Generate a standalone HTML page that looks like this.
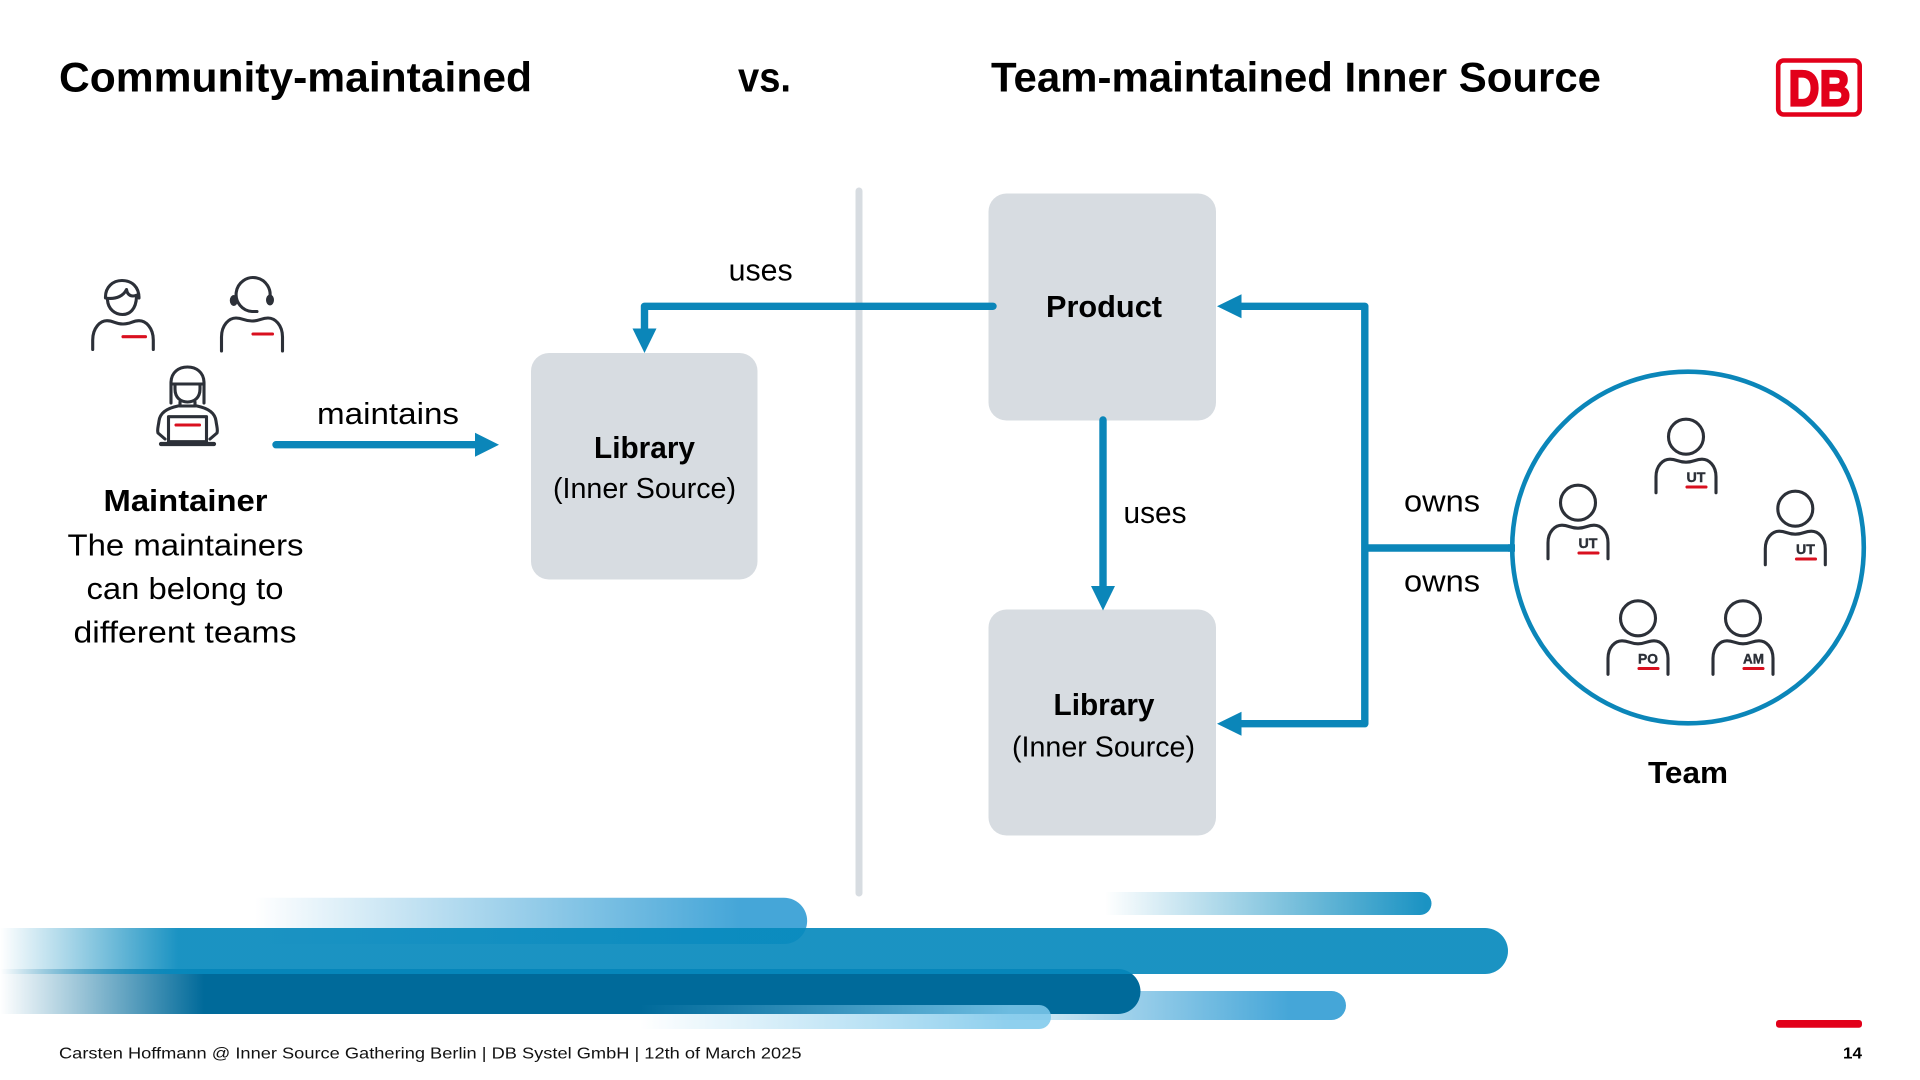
<!DOCTYPE html>
<html lang="en">
<head>
<meta charset="utf-8">
<title>Community-maintained vs. Team-maintained Inner Source</title>
<style>
html,body{margin:0;padding:0;background:#fff;width:1920px;height:1080px;overflow:hidden}
svg{display:block}
text{font-family:"Liberation Sans",sans-serif;fill:#000}
.b{font-weight:700}
.ic{fill:none;stroke:#2c3038;stroke-width:3.1;stroke-linecap:round;stroke-linejoin:round}
.red{fill:none;stroke:#d9101f;stroke-width:3.1;stroke-linecap:round}
.con{fill:none;stroke:#0b86b9;stroke-width:7.4;stroke-linecap:round;stroke-linejoin:round}
.ah{fill:#0b86b9}
.box{fill:#d7dce1}
.role{font-size:14px;font-weight:700;fill:#2c3038;stroke:#2c3038;stroke-width:.4}
</style>
</head>
<body>
<svg width="1920" height="1080" viewBox="0 0 1920 1080" xmlns="http://www.w3.org/2000/svg">
<defs>
<linearGradient id="g1" gradientUnits="userSpaceOnUse" x1="255" y1="0" x2="740" y2="0">
  <stop offset="0" stop-color="#45a6d8" stop-opacity="0"/><stop offset="1" stop-color="#45a6d8"/>
</linearGradient>
<linearGradient id="g2" gradientUnits="userSpaceOnUse" x1="0" y1="0" x2="178" y2="0">
  <stop offset="0" stop-color="#0689bd" stop-opacity="0"/><stop offset="1" stop-color="#0689bd" stop-opacity=".915"/>
</linearGradient>
<linearGradient id="g3" gradientUnits="userSpaceOnUse" x1="0" y1="0" x2="204" y2="0">
  <stop offset="0" stop-color="#006a9a" stop-opacity="0"/><stop offset="1" stop-color="#006a9a"/>
</linearGradient>
<linearGradient id="g4" gradientUnits="userSpaceOnUse" x1="1105" y1="0" x2="1425" y2="0">
  <stop offset="0" stop-color="#1b93c3" stop-opacity="0"/><stop offset="1" stop-color="#1b93c3"/>
</linearGradient>
<linearGradient id="g5" gradientUnits="userSpaceOnUse" x1="950" y1="0" x2="1290" y2="0">
  <stop offset="0" stop-color="#45a6d8" stop-opacity="0"/><stop offset="1" stop-color="#45a6d8"/>
</linearGradient>
<linearGradient id="g6" gradientUnits="userSpaceOnUse" x1="640" y1="0" x2="1010" y2="0">
  <stop offset="0" stop-color="#7dc8eb" stop-opacity="0"/><stop offset="1" stop-color="#7dc8eb" stop-opacity=".863"/>
</linearGradient>
<g id="person">
  <circle cx="0" cy="0" r="17.5" class="ic"/>
  <path class="ic" d="M-30,56 V40 C-30,29 -23,22.5 -16,22.5 C-9,22.5 -8,25.5 0,25.5 C8,25.5 9,22.5 16,22.5 C23,22.5 30,29 30,40 V56"/>
</g>
</defs>

<!-- Titles -->
<text class="b" x="59" y="91.7" font-size="42" textLength="473" lengthAdjust="spacingAndGlyphs">Community-maintained</text>
<text class="b" x="738" y="91.7" font-size="42" textLength="53" lengthAdjust="spacingAndGlyphs">vs.</text>
<text class="b" x="991" y="91.7" font-size="42" textLength="610" lengthAdjust="spacingAndGlyphs">Team-maintained Inner Source</text>

<!-- DB logo -->
<rect x="1778.2" y="60.5" width="81.5" height="54" rx="5.5" fill="#fff" stroke="#e2001a" stroke-width="4.6"/>
<text x="1788.5" y="105.7" font-size="50" class="b" style="fill:#e2001a;stroke:#e2001a;stroke-width:2.2" textLength="62" lengthAdjust="spacingAndGlyphs">DB</text>

<!-- Divider -->
<line x1="859" y1="191" x2="859" y2="893" stroke="#d7dce1" stroke-width="7" stroke-linecap="round"/>

<!-- Boxes -->
<rect class="box" x="531" y="353" width="226.5" height="226.5" rx="18"/>
<rect class="box" x="988.5" y="193.5" width="227.5" height="227" rx="18"/>
<rect class="box" x="988.5" y="609.5" width="227.5" height="226" rx="18"/>

<!-- Box labels -->
<text class="b" x="594" y="458" font-size="31" textLength="101" lengthAdjust="spacingAndGlyphs">Library</text>
<text x="553" y="498" font-size="29" textLength="183" lengthAdjust="spacingAndGlyphs">(Inner Source)</text>
<text class="b" x="1046" y="317" font-size="31" textLength="116" lengthAdjust="spacingAndGlyphs">Product</text>
<text class="b" x="1053.5" y="715" font-size="31" textLength="101" lengthAdjust="spacingAndGlyphs">Library</text>
<text x="1012" y="756.7" font-size="29" textLength="183" lengthAdjust="spacingAndGlyphs">(Inner Source)</text>

<!-- Connectors -->
<path class="con" d="M276,444.7 H476"/>
<polygon class="ah" points="475,432.7 499,444.7 475,456.7"/>
<path class="con" d="M993,306.3 H644.5 V330"/>
<polygon class="ah" points="632.5,328.5 656.5,328.5 644.5,353"/>
<path class="con" d="M1103,420 V588"/>
<polygon class="ah" points="1091,586 1115,586 1103,610.5"/>
<path class="con" d="M1240,306.3 H1364.8 V723.7 H1240"/>
<polygon class="ah" points="1241.5,294.3 1241.5,318.3 1217,306.3"/>
<polygon class="ah" points="1241.5,711.7 1241.5,735.7 1217,723.7"/>
<path class="con" d="M1368,548 H1514" stroke-linecap="butt"/>

<!-- Connector labels -->
<text x="317" y="424" font-size="31" textLength="142" lengthAdjust="spacingAndGlyphs">maintains</text>
<text x="728.6" y="280.7" font-size="31" textLength="64" lengthAdjust="spacingAndGlyphs">uses</text>
<text x="1123.5" y="523" font-size="31" textLength="63" lengthAdjust="spacingAndGlyphs">uses</text>
<text x="1404" y="511.7" font-size="31" textLength="76" lengthAdjust="spacingAndGlyphs">owns</text>
<text x="1404" y="591.7" font-size="31" textLength="76" lengthAdjust="spacingAndGlyphs">owns</text>

<!-- Maintainer text -->
<text class="b" x="103.5" y="511" font-size="31" textLength="164" lengthAdjust="spacingAndGlyphs">Maintainer</text>
<text x="67.5" y="555.5" font-size="31" textLength="236" lengthAdjust="spacingAndGlyphs">The maintainers</text>
<text x="86.5" y="599" font-size="31" textLength="197" lengthAdjust="spacingAndGlyphs">can belong to</text>
<text x="73.5" y="642.5" font-size="31" textLength="223" lengthAdjust="spacingAndGlyphs">different teams</text>

<!-- Maintainer icon 1 -->
<g>
  <path class="ic" d="M105.5,298 C105,287 113,280.5 122,280.5 C132,280.5 139,287 139,298 C139,292 138,296 133,296 C129,296 127,293 126.5,289.5 C124,295 117,300 105.5,298 Z"/>
  <path class="ic" d="M107.5,300 C108,309 115,314.5 122.5,314.5 C130,314.5 136,309 136.5,297"/>
  <path class="ic" d="M92.7,349.5 V340 C92.7,328 100,320.7 107,320.7 C114,320.7 115,324 123,324 C131,324 132,320.7 139,320.7 C146,320.7 153.3,328 153.3,340 V349.5"/>
  <line class="red" x1="123" y1="336.7" x2="145.5" y2="336.7"/>
</g>
<!-- Maintainer icon 2 -->
<g>
  <path class="ic" d="M269.5,299 A17,17 0 1 0 252,311.5 H257"/>
  <ellipse cx="233.8" cy="300.5" rx="4" ry="5.5" fill="#2c3038"/>
  <ellipse cx="270" cy="300" rx="4" ry="5.5" fill="#2c3038"/>
  <path class="ic" d="M221.5,351 V337 C221.5,325 229,318 236,318 C243,318 244,321 252,321 C260,321 261,318 268,318 C275,318 282.5,325 282.5,337 V351"/>
  <line class="red" x1="253" y1="334" x2="272.5" y2="334"/>
</g>
<!-- Maintainer icon 3 -->
<g>
  <path class="ic" d="M171,403 V383 C171,372 179,367 187.5,367 C196,367 204,372 204,383 V403"/>
  <path class="ic" d="M171.5,384 H204"/>
  <path class="ic" d="M175,384 V389 C175,398 181,402 187.5,402 C194,402 200,398 200,389 V384"/>
  <path class="ic" d="M180,402 V406 H195 V402"/>
  <path class="ic" d="M178,406 C168,408 160,412 159,421 C158,428 157,430 158,433 L165,439"/>
  <path class="ic" d="M197,406 C207,408 215,412 216,421 C217,428 218,430 217,433 L210,439"/>
  <rect class="ic" x="168.5" y="416.7" width="38" height="25" fill="#fff"/>
  <line x1="161" y1="444" x2="214" y2="444" stroke="#2c3038" stroke-width="4.2" stroke-linecap="round"/>
  <line class="red" x1="176" y1="425" x2="199.5" y2="425"/>
</g>

<!-- Team circle -->
<circle cx="1688" cy="547.5" r="175.8" fill="#fff" stroke="#0b86b9" stroke-width="4.6"/>
<path d="M1508,548 H1515" stroke="#0b86b9" stroke-width="7.4"/>

<!-- Team members -->
<use href="#person" x="1686" y="436.7"/>
<text class="role" x="1696" y="482" text-anchor="middle" textLength="19" lengthAdjust="spacingAndGlyphs">UT</text>
<line class="red" x1="1687" y1="487" x2="1706" y2="487"/>

<use href="#person" x="1578" y="502.7"/>
<text class="role" x="1588" y="548" text-anchor="middle" textLength="19" lengthAdjust="spacingAndGlyphs">UT</text>
<line class="red" x1="1579" y1="553" x2="1598" y2="553"/>

<use href="#person" x="1795.3" y="508.7"/>
<text class="role" x="1805.5" y="554" text-anchor="middle" textLength="19" lengthAdjust="spacingAndGlyphs">UT</text>
<line class="red" x1="1796.5" y1="559" x2="1815.5" y2="559"/>

<use href="#person" x="1638" y="618.3"/>
<text class="role" x="1648" y="663.5" text-anchor="middle" textLength="20" lengthAdjust="spacingAndGlyphs">PO</text>
<line class="red" x1="1639" y1="668.5" x2="1658" y2="668.5"/>

<use href="#person" x="1743" y="618.3"/>
<text class="role" x="1753.5" y="663.5" text-anchor="middle" textLength="21" lengthAdjust="spacingAndGlyphs">AM</text>
<line class="red" x1="1744" y1="668.5" x2="1763" y2="668.5"/>

<text class="b" x="1653" y="783" font-size="31" textLength="80" lengthAdjust="spacingAndGlyphs" transform="translate(-5,0)">Team</text>

<!-- Bottom bands -->
<path d="M1104,892 H1420 A11.5,11.5 0 0 1 1420,915 H1104 Z" fill="url(#g4)"/>
<path d="M950,991 H1331.5 A14.5,14.5 0 0 1 1331.5,1020 H950 Z" fill="url(#g5)"/>
<path d="M255,897.7 H784 A23,23 0 0 1 784,944 H255 Z" fill="url(#g1)"/>
<path d="M0,969 H1118 A22.5,22.5 0 0 1 1118,1014 H0 Z" fill="url(#g3)"/>
<path d="M0,928 H1485 A23,23 0 0 1 1485,974 H0 Z" fill="url(#g2)"/>
<path d="M640,1005 H1039 A12,12 0 0 1 1039,1029 H640 Z" fill="url(#g6)"/>

<!-- Footer -->
<rect x="1776" y="1020" width="86" height="7.7" rx="3" fill="#e2001a"/>
<text x="59" y="1058.5" font-size="16" textLength="742.5" lengthAdjust="spacingAndGlyphs" style="fill:#111">Carsten Hoffmann @ Inner Source Gathering Berlin | DB Systel GmbH | 12th of March 2025</text>
<text class="b" x="1843" y="1058.5" font-size="16" textLength="19" lengthAdjust="spacingAndGlyphs">14</text>
</svg>
</body>
</html>
